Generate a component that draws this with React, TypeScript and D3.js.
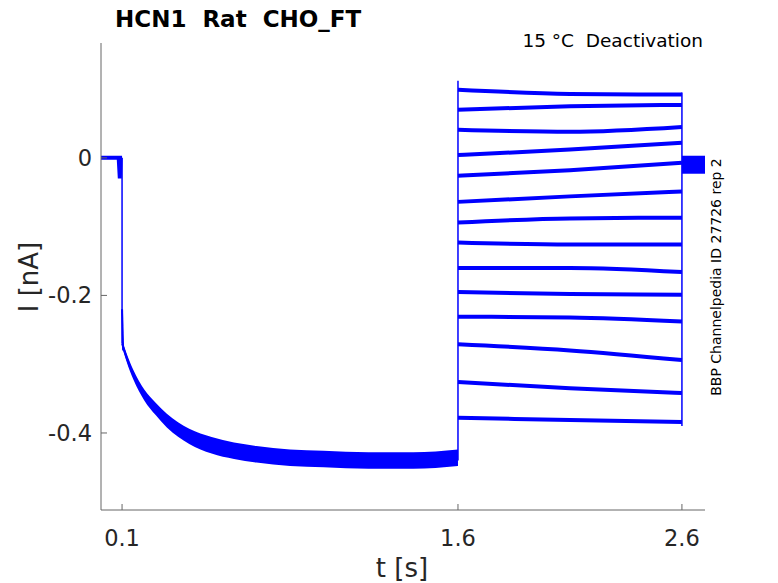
import React from "react";
import * as d3 from "d3";

const xTicks = [0.1, 1.6, 2.6];
const yTicks = [0, -0.2, -0.4];
// deactivation step traces: [start, mid, end] current (nA)
const stepStart = [0.099, 0.07, 0.041, 0.004, -0.026, -0.064, -0.094, -0.123, -0.160, -0.195, -0.231, -0.271, -0.326, -0.378];
const stepMid = [0.093, 0.075, 0.038, 0.012, -0.018, -0.056, -0.088, -0.126, -0.160, -0.198, -0.232, -0.280, -0.335, -0.381];
const stepEnd = [0.092, 0.077, 0.045, 0.022, -0.007, -0.049, -0.087, -0.126, -0.166, -0.199, -0.238, -0.294, -0.342, -0.384];
// activation (hyperpolarization) trace
const actT = [0.1, 0.12, 0.15, 0.2, 0.25, 0.3, 0.4, 0.5, 0.6, 0.7, 0.85, 1.0, 1.2, 1.4, 1.6];
const actI = [-0.27, -0.29, -0.315, -0.345, -0.365, -0.382, -0.405, -0.418, -0.426, -0.431, -0.436, -0.438, -0.44, -0.44, -0.436];
const actNoise = [0.005, 0.006, 0.007, 0.008, 0.009, 0.01, 0.011, 0.012, 0.012, 0.012, 0.012, 0.012, 0.012, 0.012, 0.012];

export default function App() {
  const W = 778, H = 583;
  const x = d3.scaleLinear().domain([0.006, 2.703]).range([101, 705]);
  const y = d3.scaleLinear().domain([-0.512, 0.167]).range([510, 43]);
  const line = d3.line<[number, number]>().x(d => x(d[0])).y(d => y(d[1]));
  const area = d3.area<number>().x((_, i) => x(actT[i])).y0((d, i) => y(d - actNoise[i])).y1((d, i) => y(d + actNoise[i])).curve(d3.curveMonotoneX);
  const actLine = d3.line<number>().x((_, i) => x(actT[i])).y(d => y(d)).curve(d3.curveMonotoneX);
  const blue = "#0000ff";
  const font = "DejaVu Sans, sans-serif";
  const ax = "#262626";
  const axLine = "#666";
  return (
    <svg width={W} height={H} style={{ position: "absolute", left: 0, top: 0, background: "#fff" }}>
      <path d={line([[0.006, 0], [0.085, 0], [0.09, -0.03], [0.093, 0], [0.1, 0]])!} stroke={blue} strokeWidth={4} fill="none" />
      <path d={line([[0.1, 0], [0.1, -0.27]])!} stroke={blue} strokeWidth={1.5} fill="none" />
      <path d={line([[0.1, -0.22], [0.105, -0.28]])!} stroke={blue} strokeWidth={2} fill="none" />
      <path d={area(actI)!} fill={blue} />
      <path d={actLine(actI)!} stroke={blue} strokeWidth={2} fill="none" />
      <path d={line([[1.6, -0.44], [1.6, 0.112]])!} stroke={blue} strokeWidth={1.5} fill="none" />
      <path d={line([[2.6, 0.095], [2.6, -0.39]])!} stroke={blue} strokeWidth={1.5} fill="none" />
      {stepStart.map((s, i) => (
        <path key={i} d={d3.line<[number, number]>().x(d => x(d[0])).y(d => y(d[1])).curve(d3.curveMonotoneX)([[1.6, s], [2.1, stepMid[i]], [2.6, stepEnd[i]]])!}
          stroke={blue} strokeWidth={4} fill="none" />
      ))}
      <path d={line([[2.6, -0.01], [2.703, -0.01]])!} stroke={blue} strokeWidth={18} fill="none" />
      <line x1={101} x2={101} y1={43} y2={510} stroke={axLine} />
      <line x1={101} x2={705} y1={510} y2={510} stroke={axLine} />
      {xTicks.map(t => (
        <g key={t}>
          <line x1={x(t)} x2={x(t)} y1={510} y2={504} stroke={axLine} />
          <text x={x(t)} y={546} textAnchor="middle" fontFamily={font} fontSize={22.5} fill={ax}>{t}</text>
        </g>
      ))}
      {yTicks.map(t => (
        <g key={t}>
          <line x1={101} x2={107} y1={y(t)} y2={y(t)} stroke={axLine} />
          <text x={92} y={y(t) + 8} textAnchor="end" fontFamily={font} fontSize={22.5} fill={ax}>{t}</text>
        </g>
      ))}
      <text x={402} y={577} textAnchor="middle" fontFamily={font} fontSize={26} fill={ax}>t [s]</text>
      <text transform="translate(38,277) rotate(-90)" textAnchor="middle" fontFamily={font} fontSize={26} fill={ax}>I [nA]</text>
      <text x={115} y={27} fontFamily={font} fontSize={23} fontWeight="bold" fill="#000" style={{ whiteSpace: "pre" }}>HCN1  Rat  CHO_FT</text>
      <text x={703} y={47} textAnchor="end" fontFamily={font} fontSize={18.5} fill="#000" style={{ whiteSpace: "pre" }}>15 °C  Deactivation</text>
      <text transform="translate(721,277) rotate(-90)" textAnchor="middle" fontFamily={font} fontSize={14} fill="#000">BBP Channelpedia ID 27726 rep 2</text>
    </svg>
  );
}
